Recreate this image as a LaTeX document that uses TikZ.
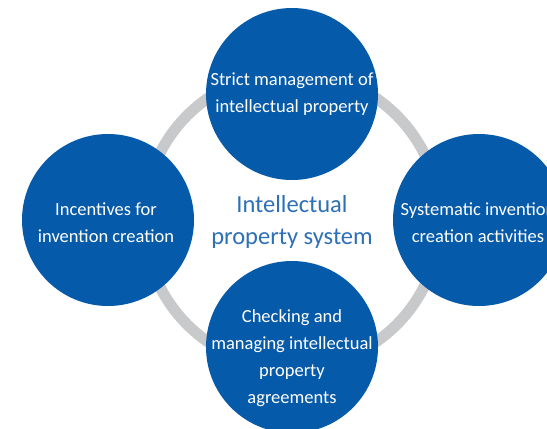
\documentclass[tikz,border=0pt]{standalone}
\usepackage{fontspec}
\setmainfont{Carlito}
\definecolor{cblue}{RGB}{6,90,170}
\definecolor{tblue}{RGB}{45,112,184}
\definecolor{ringgray}{RGB}{200,201,203}
\begin{document}
\begin{tikzpicture}[x=1pt,y=-1pt,
  bubble/.style={circle,fill=cblue,draw=none,minimum size=172pt,inner sep=0pt},
  btext/.style={text=white,align=center,font=\fontsize{18.5}{27}\selectfont,inner sep=0pt},
  ctext/.style={text=tblue,align=center,font=\fontsize{24.5}{31.5}\selectfont,inner sep=0pt}]
\useasboundingbox (0,0) rectangle (547,429);
\clip (0,0) rectangle (547,429);
\fill[white] (0,0) rectangle (547,429);
\coordinate (ringc) at (292,220);
\draw[ringgray,line width=11pt] (ringc) circle[radius=148];
\node[bubble] (top) at (292,94) {};
\node[bubble] (left) at (108,220) {};
\node[bubble] (right) at (479,220) {};
\node[bubble] (bottom) at (292,347) {};
\node[btext] (toptext) at (292,94) {Strict management of\\intellectual property};
\node[btext] (lefttext) at (106,223) {Incentives for\\invention creation};
\node[btext] (righttext) at (478,223) {Systematic invention\\creation activities};
\node[btext] (bottomtext) at (292,358) {Checking and\\managing intellectual\\property\\agreements};
\node[ctext] (center) at (292,222) {Intellectual\\property system};
\end{tikzpicture}
\end{document}
